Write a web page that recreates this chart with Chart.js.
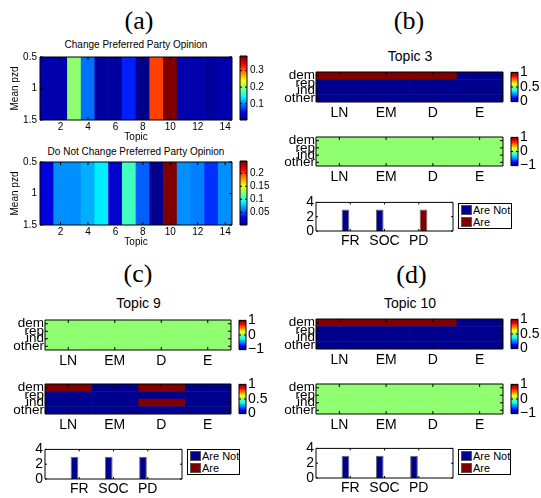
<!DOCTYPE html>
<html>
<head>
<meta charset="utf-8">
<script src="https://cdn.jsdelivr.net/npm/chart.js@4.4.1/dist/chart.umd.min.js"></script>
<style>
  html, body { margin: 0; padding: 0; background: #fff; }
  #fig { position: relative; width: 541px; height: 498px; overflow: hidden; font-family: "Liberation Sans", Arial, sans-serif; }
  #fig canvas { position: absolute; }
  .txt { position: absolute; transform: translate(-50%, -50%); white-space: nowrap; color: #000; }
  .panel { font-family: "Liberation Serif", serif; font-size: 26px; }
  .legend { position: absolute; box-sizing: border-box; border: 1px solid #000; background: #fff; font-size: 11px; }
  .legend .sw { position: absolute; left: 2px; width: 11px; height: 10px; box-sizing: border-box; border: 1px solid #555; }
  .legend .lb { position: absolute; left: 14px; line-height: 12px; white-space: nowrap; }
</style>
</head>
<body>
<div id="fig"></div>
<script>
// ---- data ----
const topics = ['1', '2', '3', '4', '5', '6', '7', '8', '9', '10', '11', '12', '13', '14'];
const changeVals = [0.016, 0.015, 0.195, 0.088, 0.010, 0.011, 0.062, 0.002, 0.310, 0.388, 0.020, 0.016, 0.014, 0.015];
const noChangeVals = [0.024, 0.066, 0.066, 0.074, 0.088, 0.019, 0.108, 0.053, 0.001, 0.247, 0.063, 0.062, 0.043, 0.063];
const pzdRange = [0.5, 1.5];
const pzdTicks = [0.5, 1, 1.5];
const changeTicks = [0.1, 0.2, 0.3];
const noChangeTicks = [0.05, 0.1, 0.15, 0.2];

const parties = ['dem', 'rep', 'ind', 'other'];
const groups = ['LN', 'EM', 'D', 'E'];
const barCats = ['FR', 'SOC', 'PD'];
const barSeries = ['Are Not', 'Are'];
const binTicks = [0, 0.5, 1];
const diffTicks = [-1, 0, 1];

// rows = parties, columns = groups
const topic3Are = [[1, 1, 1, 0], [0, 0, 0, 0], [0, 0, 0, 0], [0, 0, 0, 0]];
const topic3Diff = [[0, 0, 0, 0], [0, 0, 0, 0], [0, 0, 0, 0], [0, 0, 0, 0]];
const topic3AreNot = [3, 3, 0];
const topic3AreBars = [0, 0, 3];

const topic9Diff = [[0, 0, 0, 0], [0, 0, 0, 0], [0, 0, 0, 0], [0, 0, 0, 0]];
const topic9Are = [[1, 0, 1, 0], [0, 0, 0, 0], [0, 0, 1, 0], [0, 0, 0, 0]];
const topic9AreNot = [3, 3, 3];
const topic9AreBars = [0, 0, 0];

const topic10Are = [[1, 1, 1, 0], [0, 0, 0, 0], [0, 0, 0, 0], [0, 0, 0, 0]];
const topic10Diff = [[0, 0, 0, 0], [0, 0, 0, 0], [0, 0, 0, 0], [0, 0, 0, 0]];
const topic10AreNot = [3, 3, 3];
const topic10AreBars = [0, 0, 0];

// ---- setup ----
Chart.defaults.font.family = '"Liberation Sans", Arial, sans-serif';
Chart.defaults.color = '#000';
Chart.defaults.animation = false;
Chart.defaults.responsive = false;
Chart.defaults.maintainAspectRatio = false;
Chart.defaults.events = [];
Chart.defaults.plugins.legend.display = false;
Chart.defaults.plugins.tooltip.enabled = false;

const fig = document.getElementById('fig');
const NAVY = '#00008f';
const DARKRED = '#800000';

// matlab jet(64)
function jet(t) {
  const k = Math.min(64, Math.floor(Math.max(0, t) * 64) + 1);
  const s = k / 64;
  const ch = v => Math.round(255 * Math.max(0, Math.min(1, v)));
  return `rgb(${ch(Math.min(4 * s - 1.5, -4 * s + 4.5))},${ch(Math.min(4 * s - 0.5, -4 * s + 3.5))},${ch(Math.min(4 * s + 0.5, -4 * s + 2.5))})`;
}
const colorFor = (v, lo, hi) => jet((v - lo) / (hi - lo));

const framePlugin = {
  id: 'frame',
  afterDraw(chart, args, opts) {
    const { ctx, chartArea: a } = chart;
    const len = opts.len || 0;
    ctx.save();
    ctx.strokeStyle = '#000';
    ctx.lineWidth = 1;
    ctx.beginPath();
    if (len) {
      Object.values(chart.scales).forEach(s => {
        if (!s.options.display) return;
        s.ticks.forEach((t, i) => {
          if (t.label === '' || t.label === undefined) return;
          const p = s.getPixelForTick(i);
          if (s.isHorizontal()) {
            ctx.moveTo(p, a.bottom); ctx.lineTo(p, a.bottom - len);
            ctx.moveTo(p, a.top); ctx.lineTo(p, a.top + len);
          } else {
            ctx.moveTo(a.left, p); ctx.lineTo(a.left + len, p);
            ctx.moveTo(a.right, p); ctx.lineTo(a.right - len, p);
          }
        });
      });
    }
    ctx.rect(a.left, a.top, a.right - a.left, a.bottom - a.top);
    ctx.stroke();
    ctx.restore();
  }
};

function addChart(rect, pad, config) {
  const c = document.createElement('canvas');
  const w = rect.r - rect.l + pad.l + pad.r;
  const h = rect.b - rect.t + pad.t + pad.b;
  c.width = w; c.height = h;
  c.style.left = (rect.l - pad.l) + 'px';
  c.style.top = (rect.t - pad.t) + 'px';
  c.style.width = w + 'px';
  c.style.height = h + 'px';
  fig.appendChild(c);
  config.plugins = [framePlugin];
  return new Chart(c, config);
}

function addText(text, x, y, size, cls) {
  const d = document.createElement('div');
  d.className = 'txt' + (cls ? ' ' + cls : '');
  d.textContent = text;
  d.style.left = x + 'px';
  d.style.top = y + 'px';
  if (size) d.style.fontSize = size + 'px';
  fig.appendChild(d);
}

const noGrid = { display: false, drawTicks: false };

// one-row strip of topics, panel (a)
function topicPanel(rect, vals, lo, hi) {
  const pad = { l: 31, t: 8, r: 4, b: 23 };
  addChart(rect, pad, {
    type: 'bar',
    data: {
      labels: topics,
      datasets: [{
        data: vals.map(() => pzdRange),
        backgroundColor: vals.map(v => colorFor(v, lo, hi)),
        barPercentage: 1, categoryPercentage: 1, borderWidth: 0
      }]
    },
    options: {
      layout: { padding: { left: 0, top: pad.t, right: pad.r, bottom: 0 } },
      plugins: { frame: { len: 3 } },
      scales: {
        x: {
          grid: noGrid, border: { display: false },
          ticks: { autoSkip: false, maxRotation: 0, padding: 1, font: { size: 10 },
            callback: (v, i) => (i % 2 ? topics[i] : '') },
          title: { display: true, text: 'Topic', padding: 0, font: { size: 10 } },
          afterFit: s => { s.height = pad.b; }
        },
        y: {
          reverse: true, min: pzdRange[0], max: pzdRange[1],
          grid: noGrid, border: { display: false },
          afterBuildTicks: s => { s.ticks = pzdTicks.map(v => ({ value: v })); },
          ticks: { autoSkip: false, padding: 3, font: { size: 10 }, callback: v => String(v) },
          title: { display: true, text: 'Mean pzd', padding: 0, font: { size: 10 } },
          afterFit: s => { s.width = pad.l; }
        }
      }
    }
  });
}

function colorbar(rect, lo, hi, tickVals, tickText, size, tpad) {
  const pad = { l: 2, t: 10, r: 30, b: 10 };
  addChart(rect, pad, {
    type: 'bar',
    data: {
      labels: [''],
      datasets: [{
        data: [[lo, hi]],
        barPercentage: 1, categoryPercentage: 1, borderWidth: 0,
        backgroundColor: ctx => {
          const a = ctx.chart.chartArea;
          if (!a) return 'rgba(0,0,0,0)';
          const g = ctx.chart.ctx.createLinearGradient(0, a.bottom, 0, a.top);
          for (let k = 1; k <= 64; k++) {
            const col = jet((k - 0.5) / 64);
            g.addColorStop((k - 1) / 64, col);
            g.addColorStop(k / 64, col);
          }
          return g;
        }
      }]
    },
    options: {
      layout: { padding: { left: pad.l, top: pad.t, right: 0, bottom: pad.b } },
      plugins: { frame: { len: 2 } },
      scales: {
        x: { display: false },
        y: {
          position: 'right', min: lo, max: hi,
          grid: noGrid, border: { display: false },
          afterBuildTicks: s => { s.ticks = tickVals.map(v => ({ value: v })); },
          ticks: { autoSkip: false, padding: tpad, font: { size: size }, callback: (v, i) => tickText[i] },
          afterFit: s => { s.width = pad.r; }
        }
      }
    }
  });
}

function gridPanel(rect, matrix, lo, hi) {
  const pad = { l: 46, t: 10, r: 4, b: 24 };
  addChart(rect, pad, {
    type: 'bar',
    data: {
      labels: parties,
      datasets: groups.map((g, j) => ({
        label: g,
        data: parties.map(() => 1),
        backgroundColor: parties.map((p, i) => colorFor(matrix[i][j], lo, hi)),
        barPercentage: 1, categoryPercentage: 1, borderWidth: 0
      }))
    },
    options: {
      indexAxis: 'y',
      layout: { padding: { left: 0, top: pad.t, right: pad.r, bottom: 0 } },
      plugins: { frame: { len: 3 } },
      scales: {
        x: {
          type: 'linear', stacked: true, min: 0, max: groups.length,
          grid: noGrid, border: { display: false },
          afterBuildTicks: s => { s.ticks = groups.map((g, j) => ({ value: j + 0.5 })); },
          ticks: { autoSkip: false, maxRotation: 0, padding: 3, font: { size: 14 }, callback: (v, i) => groups[i] },
          afterFit: s => { s.height = pad.b; }
        },
        y: {
          stacked: true,
          grid: noGrid, border: { display: false },
          ticks: { autoSkip: false, padding: 1, font: { size: 13.5 } },
          afterFit: s => { s.width = pad.l; }
        }
      }
    }
  });
}

function barPanel(rect, areNot, are) {
  const pad = { l: 20, t: 10, r: 4, b: 24 };
  addChart(rect, pad, {
    type: 'bar',
    data: {
      labels: ['', ...barCats, ''],
      datasets: [
        { label: barSeries[0], data: [null, ...areNot, null], backgroundColor: NAVY, borderColor: '#666', borderWidth: 1 },
        { label: barSeries[1], data: [null, ...are, null], backgroundColor: DARKRED, borderColor: '#666', borderWidth: 1 }
      ]
    },
    options: {
      layout: { padding: { left: 0, top: pad.t, right: pad.r, bottom: 0 } },
      datasets: { bar: { categoryPercentage: 0.556, barPercentage: 0.81 } },
      plugins: { frame: { len: 2 } },
      scales: {
        x: {
          offset: false, grid: noGrid, border: { display: false },
          ticks: { autoSkip: false, maxRotation: 0, padding: 2, font: { size: 14 } },
          afterFit: s => { s.height = pad.b; }
        },
        y: {
          min: 0, max: 4, grid: noGrid, border: { display: false },
          ticks: { autoSkip: false, stepSize: 2, padding: 2, font: { size: 14 } },
          afterFit: s => { s.width = pad.l; }
        }
      }
    }
  });
}

function legendBox(rect) {
  const d = document.createElement('div');
  d.className = 'legend';
  d.style.left = rect.l + 'px';
  d.style.top = rect.t + 'px';
  d.style.width = (rect.r - rect.l) + 'px';
  d.style.height = (rect.b - rect.t) + 'px';
  const cols = [NAVY, DARKRED];
  barSeries.forEach((name, i) => {
    const sw = document.createElement('div');
    sw.className = 'sw';
    sw.style.top = (1 + i * 12) + 'px';
    sw.style.background = cols[i];
    const lb = document.createElement('div');
    lb.className = 'lb';
    lb.style.top = (0 + i * 12) + 'px';
    lb.textContent = name;
    d.appendChild(sw);
    d.appendChild(lb);
  });
  fig.appendChild(d);
}

function minmax(a) { return [Math.min(...a), Math.max(...a)]; }

// ---- panel (a) ----
addText('(a)', 139, 21, null, 'panel');
addText('Change Preferred Party Opinion', 136, 44, 10);
const [c0, c1] = minmax(changeVals);
topicPanel({ l: 40, t: 56, r: 232, b: 120 }, changeVals, c0, c1);
colorbar({ l: 240, t: 56, r: 247, b: 120 }, c0, c1, changeTicks, changeTicks.map(String), 10, 3);
addText('Do Not Change Preferred Party Opinion', 136, 150.5, 10);
const [n0, n1] = minmax(noChangeVals);
topicPanel({ l: 40, t: 161, r: 232, b: 225 }, noChangeVals, n0, n1);
colorbar({ l: 240, t: 161, r: 247, b: 225 }, n0, n1, noChangeTicks, noChangeTicks.map(String), 10, 3);

const binText = binTicks.map(String);
const diffText = diffTicks.map(v => (v < 0 ? '\u2212' + Math.abs(v) : String(v)));

// ---- panel (b) ----
addText('(b)', 409, 21, null, 'panel');
addText('Topic 3', 410, 56, 14);
gridPanel({ l: 316, t: 72, r: 503, b: 102 }, topic3Are, 0, 1);
colorbar({ l: 511, t: 72, r: 518, b: 102 }, 0, 1, binTicks, binText, 14, 2);
gridPanel({ l: 316, t: 137, r: 503, b: 166 }, topic3Diff, -1, 1);
colorbar({ l: 511, t: 137, r: 518, b: 166 }, -1, 1, diffTicks, diffText, 14, 2);
barPanel({ l: 316, t: 202, r: 453, b: 231 }, topic3AreNot, topic3AreBars);
legendBox({ l: 458, t: 203, r: 512, b: 229 });

// ---- panel (c) ----
addText('(c)', 138, 274, null, 'panel');
addText('Topic 9', 138.5, 302.5, 14);
gridPanel({ l: 45, t: 320, r: 231, b: 350 }, topic9Diff, -1, 1);
colorbar({ l: 239, t: 320, r: 246, b: 350 }, -1, 1, diffTicks, diffText, 14, 2);
gridPanel({ l: 45, t: 384, r: 231, b: 414 }, topic9Are, 0, 1);
colorbar({ l: 239, t: 384, r: 246, b: 414 }, 0, 1, binTicks, binText, 14, 2);
barPanel({ l: 45, t: 449, r: 182, b: 479 }, topic9AreNot, topic9AreBars);
legendBox({ l: 187, t: 449, r: 240, b: 475 });

// ---- panel (d) ----
addText('(d)', 411.5, 275, null, 'panel');
addText('Topic 10', 410, 302.5, 14);
gridPanel({ l: 316, t: 319, r: 503, b: 349 }, topic10Are, 0, 1);
colorbar({ l: 511, t: 319, r: 518, b: 349 }, 0, 1, binTicks, binText, 14, 2);
gridPanel({ l: 316, t: 384, r: 503, b: 414 }, topic10Diff, -1, 1);
colorbar({ l: 511, t: 384, r: 518, b: 414 }, -1, 1, diffTicks, diffText, 14, 2);
barPanel({ l: 316, t: 448, r: 453, b: 478 }, topic10AreNot, topic10AreBars);
legendBox({ l: 458, t: 449, r: 511, b: 475 });
</script>
</body>
</html>
